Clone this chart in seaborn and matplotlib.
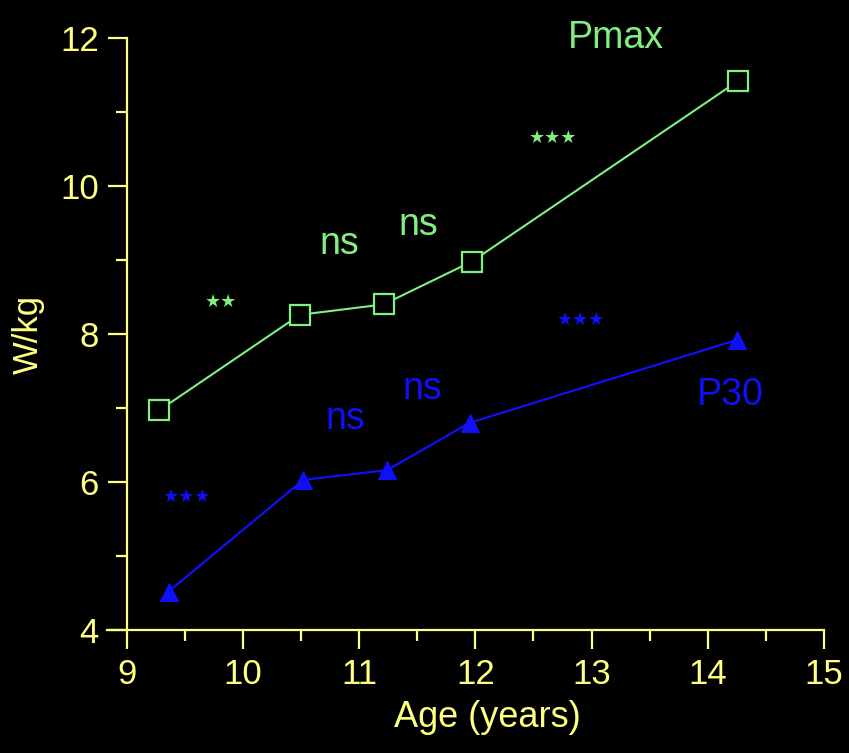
import pandas as pd
import matplotlib.pyplot as plt
import seaborn as sns
from matplotlib.ticker import MultipleLocator

# Valores
idade_pmax = [9.28, 10.49, 11.21, 11.97, 14.26]
pmax = [6.97, 8.26, 8.40, 8.98, 11.42]
idade_p30 = [9.36, 10.52, 11.24, 11.95, 14.25]
p30 = [4.52, 6.03, 6.16, 6.80, 7.92]

amarelo = '#ffff80'
verde = '#80f080'
azul = '#1010f8'

sns.set_theme(style='ticks')
plt.rcParams['font.family'] = ['Liberation Sans', 'DejaVu Sans']

fig = plt.figure(figsize=(8.49, 7.53), dpi=100, facecolor='black')
ax = fig.add_axes([0.126, 0.1633, 0.8446, 0.7862])
ax.set_facecolor('black')

df_pmax = pd.DataFrame({'Idade': idade_pmax, 'W/kg': pmax})
df_p30 = pd.DataFrame({'Idade': idade_p30, 'W/kg': p30})

sns.lineplot(x='Idade', y='W/kg', data=df_pmax, ax=ax, color=verde, linewidth=1.5,
             marker='s', markersize=14, markerfacecolor='black',
             markeredgecolor=verde, markeredgewidth=1.6)
sns.lineplot(x='Idade', y='W/kg', data=df_p30, ax=ax, color=azul, linewidth=1.6,
             marker='^', markersize=13, markerfacecolor=azul,
             markeredgecolor=azul)

ax.set_xlim(8.83, 15)
ax.set_ylim(4, 12)
ax.spines['left'].set_position(('data', 9))
ax.spines['top'].set_visible(False)
ax.spines['right'].set_visible(False)
for s in ['left', 'bottom']:
    ax.spines[s].set_color(amarelo)
    ax.spines[s].set_linewidth(1.6)

ax.xaxis.set_major_locator(MultipleLocator(1))
ax.xaxis.set_minor_locator(MultipleLocator(0.5))
ax.yaxis.set_major_locator(MultipleLocator(2))
ax.yaxis.set_minor_locator(MultipleLocator(1))
ax.tick_params(which='major', length=14, width=1.6, colors=amarelo,
               labelsize=25, direction='out', pad=6)
ax.tick_params(which='minor', length=8, width=1.6, colors=amarelo, direction='out')

ax.set_xlabel('Age (years)', color=amarelo, fontsize=26)
ax.set_ylabel('W/kg', color=amarelo, fontsize=25)
ax.xaxis.set_label_coords(0.53, -0.118)
ax.yaxis.set_label_coords(-0.086, 0.5)

# Anotações
ax.text(13.21, 12.0, 'Pmax', color=verde, fontsize=27, ha='center', va='center')
ax.text(14.19, 7.18, 'P30', color=azul, fontsize=27, ha='center', va='center')
ax.text(10.83, 9.22, 'ns', color=verde, fontsize=27, ha='center', va='center')
ax.text(11.51, 9.48, 'ns', color=verde, fontsize=27, ha='center', va='center')
ax.text(11.54, 7.26, 'ns', color=azul, fontsize=27, ha='center', va='center')
ax.text(10.88, 6.85, 'ns', color=azul, fontsize=27, ha='center', va='center')
ax.text(9.81, 8.43, '★★', color=verde, fontsize=13, ha='center', va='center', family='DejaVu Sans')
ax.text(12.67, 10.65, '★★★', color=verde, fontsize=13, ha='center', va='center', family='DejaVu Sans')
ax.text(12.91, 8.19, '★★★', color=azul, fontsize=13, ha='center', va='center', family='DejaVu Sans')
ax.text(9.52, 5.80, '★★★', color=azul, fontsize=13, ha='center', va='center', family='DejaVu Sans')

fig.savefig('out.png', dpi=100, facecolor='black')
